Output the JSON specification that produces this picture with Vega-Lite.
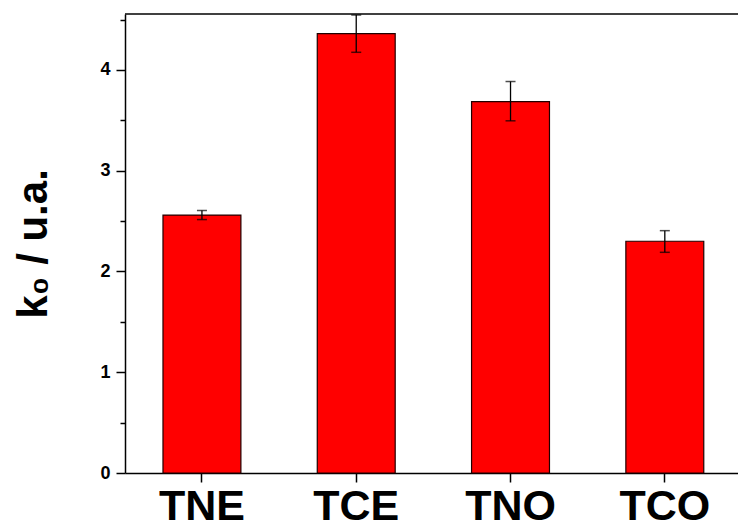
{
  "$schema": "https://vega.github.io/schema/vega-lite/v6.json",
  "width": 613,
  "height": 459,
  "autosize": {"type": "none"},
  "padding": {"left": 125, "top": 14, "right": 0, "bottom": 51},
  "background": "white",
  "config": {
    "view": {"stroke": null},
    "font": "Liberation Sans"
  },
  "data": {
    "values": [
      {"sample": "TNE", "k0": 2.56, "lo": 2.515, "hi": 2.605},
      {"sample": "TCE", "k0": 4.36, "lo": 4.175, "hi": 4.545},
      {"sample": "TNO", "k0": 3.685, "lo": 3.495, "hi": 3.885},
      {"sample": "TCO", "k0": 2.30, "lo": 2.19, "hi": 2.405}
    ]
  },
  "encoding": {
    "x": {
      "field": "sample",
      "type": "nominal",
      "sort": null,
      "scale": {"paddingInner": 0.495, "paddingOuter": 0.234, "align": 0.526},
      "axis": {
        "title": null,
        "labelAngle": 0,
        "labelFont": "Liberation Sans",
        "labelFontSize": 43,
        "labelFontWeight": "bold",
        "labelColor": "black",
        "labelPadding": 3,
        "tickSize": 9,
        "tickWidth": 1.5,
        "tickColor": "black",
        "domainColor": "black",
        "domainWidth": 1.5,
        "grid": false
      }
    }
  },
  "layer": [
    {
      "mark": {"type": "bar", "fill": "#ff0000", "stroke": "#200000", "strokeWidth": 1.2},
      "encoding": {
        "y": {
          "field": "k0",
          "type": "quantitative",
          "scale": {"domain": [0, 4.555], "nice": false, "zero": true},
          "axis": {
            "title": "k₀ / u.a.",
            "titleFont": "Liberation Sans",
            "titleFontSize": 42,
            "titleFontWeight": "bold",
            "titleColor": "black",
            "titleX": -79,
            "titleY": 229.5,
            "titleBaseline": "alphabetic",
            "titleAngle": 270,
            "values": [0, 0.5, 1, 1.5, 2, 2.5, 3, 3.5, 4, 4.5],
            "labelExpr": "datum.value % 1 === 0 ? format(datum.value, 'd') : ''",
            "labelFont": "Liberation Sans",
            "labelFontSize": 18,
            "labelFontWeight": "bold",
            "labelColor": "black",
            "labelPadding": 6,
            "tickSize": {"condition": {"test": "datum.value % 1 !== 0", "value": 5}, "value": 9},
            "tickWidth": 1.5,
            "tickColor": "black",
            "domainColor": "black",
            "domainWidth": 1.5,
            "grid": false
          }
        }
      }
    },
    {
      "mark": {"type": "rule", "color": "black", "strokeWidth": 1.3},
      "encoding": {
        "y": {"field": "lo", "type": "quantitative"},
        "y2": {"field": "hi"}
      }
    },
    {
      "mark": {"type": "tick", "color": "black", "size": 10, "thickness": 1.5},
      "encoding": {
        "y": {"field": "lo", "type": "quantitative"}
      }
    },
    {
      "mark": {"type": "tick", "color": "black", "size": 10, "thickness": 1.5},
      "encoding": {
        "y": {"field": "hi", "type": "quantitative"}
      }
    },
    {
      "data": {"values": [{"top": 4.555}]},
      "mark": {"type": "rule", "color": "black", "strokeWidth": 1.5},
      "encoding": {
        "y": {"field": "top", "type": "quantitative"},
        "x": null
      }
    }
  ]
}
